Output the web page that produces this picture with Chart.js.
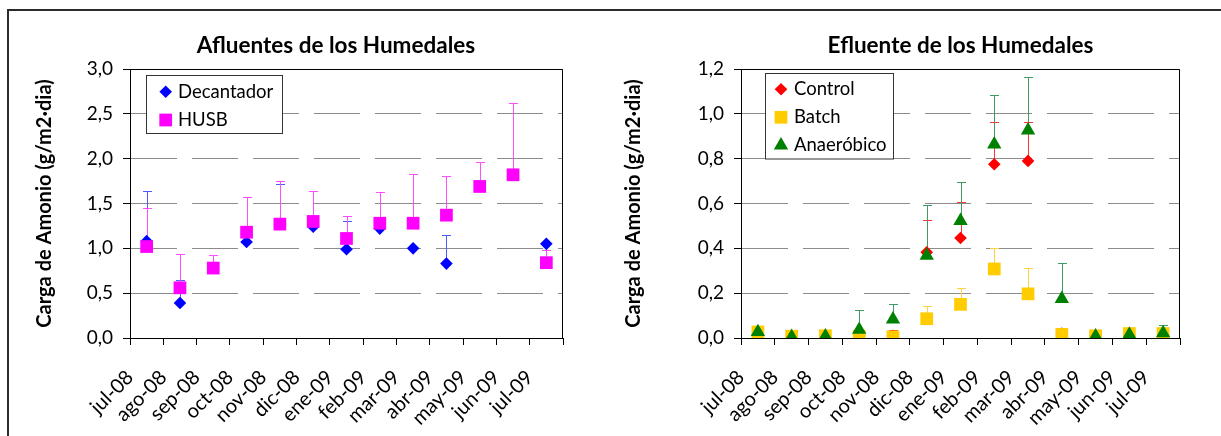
<!DOCTYPE html>
<html>
<head>
<meta charset="utf-8">
<script src="https://cdn.jsdelivr.net/npm/chart.js@4.4.0/dist/chart.umd.min.js"></script>
<style>
  body { margin: 0; background: #fff; width: 1221px; height: 436px; overflow: hidden; position: relative; }
  #marco { position: absolute; left: 7px; top: 9px; width: 1300px; height: 500px; border: 2px solid #2b2b2b; }
  canvas { position: absolute; top: 0; }
  #afluentes { left: 0; }
  #efluente { left: 610px; }
</style>
</head>
<body>
<div id="marco"></div>
<canvas id="afluentes" width="610" height="436"></canvas>
<canvas id="efluente" width="611" height="436"></canvas>
<script>
const meses = ["jul-08", "ago-08", "sep-08", "oct-08", "nov-08", "dic-08", "ene-09",
  "feb-09", "mar-09", "abr-09", "may-09", "jun-09", "jul-09"];

// afluentes (media y extremo superior de la barra de error)
const decantador = [1.08, 0.39, null, 1.07, 1.27, 1.24, 0.99, 1.22, 1.00, 0.83, null, null, 1.05];
const decantadorErr = [1.64, 0.65, null, null, 1.72, 1.64, 1.30, 1.63, null, 1.15, null, null, null];
const husb = [1.02, 0.56, 0.78, 1.18, 1.27, 1.30, 1.11, 1.28, 1.28, 1.37, 1.69, 1.82, 0.84];
const husbErr = [1.45, 0.94, 0.93, 1.57, 1.75, 1.64, 1.36, 1.63, 1.83, 1.81, 1.96, 2.62, 0.98];
const ticksAfluentes = ["0,0", "0,5", "1,0", "1,5", "2,0", "2,5", "3,0"];

// efluente
const control = [0.02, 0.005, 0.005, 0.01, 0.01, 0.382, 0.446, 0.775, 0.790, 0.02, 0.01, 0.015, 0.015];
const controlErr = [null, null, null, null, 0.034, 0.528, 0.606, 0.963, 0.964, 0.044, 0.035, null, null];
const batch = [0.027, 0.008, 0.01, 0.008, 0.005, 0.086, 0.150, 0.308, 0.197, 0.016, 0.01, 0.02, 0.02];
const batchErr = [null, null, null, null, 0.03, 0.142, 0.222, 0.400, 0.311, null, null, null, null];
const anaerobico = [0.027, 0.005, 0.008, 0.037, 0.083, 0.368, 0.523, 0.864, 0.926, 0.175, 0.008, 0.015, 0.022];
const anaerobicoErr = [null, null, null, 0.126, 0.151, 0.593, 0.695, 1.084, 1.166, 0.333, null, null, 0.056];
const ticksEfluente = ["0,0", "0,2", "0,4", "0,6", "0,8", "1,0", "1,2"];

Chart.defaults.font.family = 'Lato, "Liberation Sans", sans-serif';
Chart.defaults.color = "#000";

// cada mes ocupa el intervalo [i, i+1] del eje x
const puntos = (vals) => vals.map((v, i) => ({ x: i + 0.5, y: v }));

const barrasError = {
  id: "barrasError",
  beforeDatasetsDraw(chart) {
    const { ctx, scales: { x, y } } = chart;
    chart.data.datasets.forEach((ds) => {
      if (!ds.errorTop) return;
      ctx.save();
      ctx.strokeStyle = ds.errorColor;
      ctx.lineWidth = 1;
      ds.errorTop.forEach((top, i) => {
        const v = ds.data[i].y;
        if (top == null || v == null) return;
        const px = Math.round(x.getPixelForValue(i + 0.5)) + 0.5;
        const y0 = y.getPixelForValue(v);
        const y1 = Math.round(y.getPixelForValue(top)) + 0.5;
        ctx.beginPath();
        ctx.moveTo(px, y0);
        ctx.lineTo(px, y1);
        ctx.moveTo(px - 4.5, y1);
        ctx.lineTo(px + 4.5, y1);
        ctx.stroke();
      });
      ctx.restore();
    });
  }
};

// borde superior y derecho del area de trazado
const marcoGrafico = {
  id: "marcoGrafico",
  beforeDatasetsDraw(chart) {
    const { ctx, chartArea: a } = chart;
    const l = Math.round(a.left) + 0.5, r = Math.round(a.right) - 0.5;
    const t = Math.round(a.top) + 0.5, b = Math.round(a.bottom);
    ctx.save();
    ctx.strokeStyle = "#000";
    ctx.lineWidth = 1;
    ctx.beginPath();
    ctx.moveTo(l, t);
    ctx.lineTo(r, t);
    ctx.lineTo(r, b);
    ctx.stroke();
    ctx.restore();
  }
};

const leyenda = {
  id: "leyenda",
  afterDatasetsDraw(chart, args, opts) {
    const { ctx } = chart;
    const [bx, by, bw, bh] = opts.caja;
    ctx.save();
    ctx.fillStyle = "#fff";
    ctx.fillRect(bx, by, bw, bh);
    ctx.strokeStyle = "#333";
    ctx.lineWidth = 1;
    ctx.strokeRect(bx, by, bw, bh);
    ctx.font = "18.5px Lato";
    ctx.textBaseline = "middle";
    chart.data.datasets.forEach((ds, i) => {
      const yy = opts.filaY + i * opts.paso;
      ctx.fillStyle = ds.backgroundColor;
      Chart.helpers.drawPoint(ctx, { pointStyle: ds.pointStyle, radius: ds.pointRadius, borderWidth: 0, rotation: 0 }, opts.marcaX, yy);
      ctx.fillStyle = "#000";
      ctx.fillText(ds.label, opts.textoX, yy);
    });
    ctx.restore();
  }
};

const desplazaTitulo = {
  id: "desplazaTitulo",
  afterLayout(chart, args, opts) {
    const t = chart.titleBlock;
    if (t && opts.dx) {
      t.left += opts.dx;
      t.right += opts.dx;
    }
  }
};

function ejes(maxY, paso, etiquetasY, anchoY, padTitulo) {
  return {
    x: {
      type: "linear",
      min: 0,
      max: 13,
      afterBuildTicks: (s) => { s.ticks = meses.map((m, i) => ({ value: i })).concat([{ value: 13 }]); },
      afterFit: (s) => { s.height = 98; },
      ticks: {
        autoSkip: false, minRotation: 45, maxRotation: 45, padding: 20.5, labelOffset: 0,
        font: { size: 20 },
        callback: (v) => meses[v] ?? ""
      },
      grid: { drawOnChartArea: false, drawTicks: true, tickLength: 7, tickColor: "#000" },
      border: { color: "#000", width: 1 }
    },
    y: {
      min: 0,
      max: maxY,
      afterFit: (s) => { s.width = anchoY; },
      ticks: { stepSize: paso, padding: 10, font: { size: 19 }, callback: (v, i) => etiquetasY[i] },
      grid: { color: "#8c8c8c", tickLength: 7, tickColor: "#000", tickBorderDash: [] },
      border: { color: "#000", width: 1, dash: [46, 15] },
      title: {
        display: true, text: "Carga de Amonio (g/m2·dia)",
        font: { size: 20, weight: "bold" }, padding: { top: padTitulo, bottom: 0 }
      }
    }
  };
}

new Chart(document.getElementById("afluentes"), {
  type: "scatter",
  data: {
    datasets: [
      {
        label: "Decantador", data: puntos(decantador), errorTop: decantadorErr, errorColor: "#4a5cff",
        backgroundColor: "#0000ff", pointStyle: "rectRot", pointRadius: 6.3, pointBorderWidth: 0, order: 1
      },
      {
        label: "HUSB", data: puntos(husb), errorTop: husbErr, errorColor: "#ff4dff",
        backgroundColor: "#ff00ff", pointStyle: "rect", pointRadius: 9, pointBorderWidth: 0, order: 0
      }
    ]
  },
  options: {
    responsive: false,
    animation: false,
    events: [],
    layout: { padding: { left: 0, right: 47, top: 0, bottom: 0 } },
    plugins: {
      legend: { display: false },
      tooltip: { enabled: false },
      title: {
        display: true, text: "Afluentes de los Humedales", fullSize: false,
        font: { size: 22.5, weight: "bold" }, padding: { top: 32.5, bottom: 9.5 }
      },
      desplazaTitulo: { dx: -10.5 },
      leyenda: { caja: [146.5, 75.5, 136, 58], marcaX: 165.7, textoX: 178, filaY: 91.7, paso: 28.3 }
    },
    scales: ejes(3, 0.5, ticksAfluentes, 130, 33)
  },
  plugins: [marcoGrafico, barrasError, leyenda, desplazaTitulo]
});

new Chart(document.getElementById("efluente"), {
  type: "scatter",
  data: {
    datasets: [
      {
        label: "Control", data: puntos(control), errorTop: controlErr, errorColor: "#ff3333",
        backgroundColor: "#ff0000", pointStyle: "rectRot", pointRadius: 6.3, pointBorderWidth: 0, order: 2
      },
      {
        label: "Batch", data: puntos(batch), errorTop: batchErr, errorColor: "#ffd23f",
        backgroundColor: "#ffcc00", pointStyle: "rect", pointRadius: 9, pointBorderWidth: 0, order: 1
      },
      {
        label: "Anaeróbico", data: puntos(anaerobico), errorTop: anaerobicoErr, errorColor: "#3f9a66",
        backgroundColor: "#008000", pointStyle: "triangle", pointRadius: 8.3, pointBorderWidth: 0, order: 0
      }
    ]
  },
  options: {
    responsive: false,
    animation: false,
    events: [],
    layout: { padding: { left: 0, right: 41, top: 0, bottom: 0 } },
    plugins: {
      legend: { display: false },
      tooltip: { enabled: false },
      title: {
        display: true, text: "Efluente de los Humedales", fullSize: false,
        font: { size: 22.5, weight: "bold" }, padding: { top: 32.5, bottom: 9.5 }
      },
      leyenda: { caja: [155.5, 73.5, 128, 85.5], marcaX: 171, textoX: 184, filaY: 89.3, paso: 28 }
    },
    scales: ejes(1.2, 0.2, ticksEfluente, 131, 11.7)
  },
  plugins: [marcoGrafico, barrasError, leyenda]
});
</script>
</body>
</html>
